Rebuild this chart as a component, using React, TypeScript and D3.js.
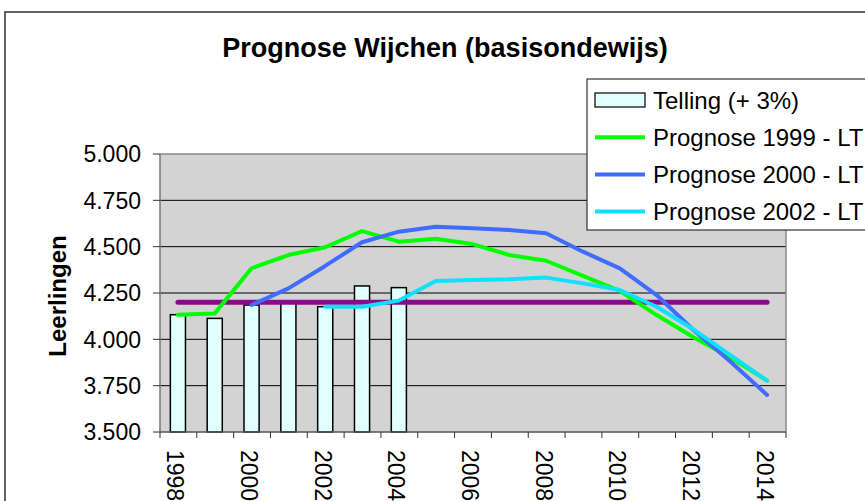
import React from "react";
import * as d3 from "d3";

// years on the category axis
const years = [
  "1998", "1999", "2000", "2001", "2002", "2003", "2004", "2005", "2006",
  "2007", "2008", "2009", "2010", "2011", "2012", "2013", "2014",
];
const yearLabels = ["1998", "2000", "2002", "2004", "2006", "2008", "2010", "2012", "2014"];

// Telling (+ 3%) counts, 1998 - 2004
const tellingYears = ["1998", "1999", "2000", "2001", "2002", "2003", "2004"];
const telling = [4.133, 4.113, 4.185, 4.205, 4.176, 4.288, 4.279];

// prognoses
const prog1999Years = years;
const prog1999 = [
  4.133, 4.14, 4.383, 4.455, 4.497, 4.584, 4.527, 4.543, 4.514,
  4.455, 4.424, 4.342, 4.262, 4.131, 4.011, 3.903, 3.777,
];
const prog2000Years = years.slice(2);
const prog2000 = [
  4.185, 4.275, 4.396, 4.524, 4.581, 4.608, 4.599, 4.59, 4.572,
  4.473, 4.383, 4.239, 4.05, 3.88, 3.7,
];
const prog2002Years = years.slice(4);
const prog2002 = [
  4.176, 4.176, 4.209, 4.315, 4.32, 4.324, 4.333, 4.302, 4.266,
  4.176, 4.054, 3.915, 3.777,
];
const capacity = 4.2; // purple reference line

const yTicks = [3.5, 3.75, 4.0, 4.25, 4.5, 4.75, 5.0];

const legendItems = [
  { label: "Telling (+ 3%)", type: "bar", color: "#E0FFFF" },
  { label: "Prognose 1999 - LT", type: "line", color: "#00FF00" },
  { label: "Prognose 2000 - LT", type: "line", color: "#3F6BFF" },
  { label: "Prognose 2002 - LT", type: "line", color: "#10E0FF" },
];

const font = "'Liberation Sans', Arial, sans-serif";

export default function App() {
  const left = 160, right = 786, top = 154, bottom = 432;

  const x = d3.scaleBand().domain(years).range([left, right]).padding(0);
  const y = d3.scaleLinear().domain([3.5, 5.0]).range([bottom, top]);
  const bw = x.bandwidth();
  const cx = (yr: string) => (x(yr) as number) + bw / 2 - 0.5;
  const fmt = d3.format(",.3f");

  const line = d3
    .line<[string, number]>()
    .x((d) => cx(d[0]))
    .y((d) => y(d[1]));

  const series = [
    { yrs: prog1999Years, vals: prog1999, color: legendItems[1].color },
    { yrs: prog2000Years, vals: prog2000, color: legendItems[2].color },
    { yrs: prog2002Years, vals: prog2002, color: legendItems[3].color },
  ];

  const barW = bw * 0.41;

  return (
    <svg
      width={865}
      height={501}
      style={{ position: "absolute", left: 0, top: 0, background: "#fff" }}
      fontFamily={font}
    >
      {/* chart frame */}
      <rect x={5} y={12} width={900} height={600} fill="#fff" stroke="#333" strokeWidth={1.5} />

      <text x={445} y={57} textAnchor="middle" fontSize={27} fontWeight="bold" fill="#000">
        Prognose Wijchen (basisondewijs)
      </text>

      {/* plot area */}
      <rect x={left} y={top} width={right - left} height={bottom - top} fill="#D3D3D3" />
      {yTicks.slice(1, -1).map((t) => (
        <line key={t} x1={left} x2={right} y1={y(t)} y2={y(t)} stroke="#000" strokeWidth={1} />
      ))}
      <line x1={left} x2={right} y1={top} y2={top} stroke="#888" strokeWidth={1.5} />
      <line x1={right} x2={right} y1={top} y2={bottom} stroke="#888" strokeWidth={1.5} />

      {/* bars */}
      {tellingYears.map((yr, i) => (
        <rect
          key={yr}
          x={cx(yr) - barW / 2}
          y={y(telling[i])}
          width={barW}
          height={bottom - y(telling[i])}
          fill={legendItems[0].color}
          stroke="#000"
          strokeWidth={1.5}
        />
      ))}

      {/* capacity line */}
      <line
        x1={cx(years[0])}
        x2={cx(years[years.length - 1])}
        y1={y(capacity)}
        y2={y(capacity)}
        stroke="#8B0A8B"
        strokeWidth={5}
        strokeLinecap="round"
      />

      {series.map((s, i) => (
        <path
          key={i}
          d={line(s.yrs.map((yr, j) => [yr, s.vals[j]] as [string, number])) || ""}
          fill="none"
          stroke={s.color}
          strokeWidth={4}
          strokeLinejoin="round"
          strokeLinecap="round"
        />
      ))}

      {/* y axis */}
      <line x1={left} x2={left} y1={top} y2={bottom} stroke="#777" strokeWidth={1.5} />
      {yTicks.map((t) => (
        <g key={t}>
          <line x1={left - 7} x2={left} y1={y(t)} y2={y(t)} stroke="#333" strokeWidth={1} />
          <text x={141} y={y(t)} dy="0.36em" textAnchor="end" fontSize={23} fill="#000">
            {fmt(t).replace(",", ".")}
          </text>
        </g>
      ))}
      <text
        transform={`translate(57, ${(top + bottom) / 2 + 3}) rotate(-90)`}
        textAnchor="middle"
        dy="0.36em"
        fontSize={24}
        fontWeight="bold"
        fill="#000"
      >
        Leerlingen
      </text>

      {/* x axis */}
      <line x1={left} x2={right} y1={bottom} y2={bottom} stroke="#555" strokeWidth={1.5} />
      {[...years.map((yr) => x(yr) as number), right].map((bx, i) => (
        <line key={i} x1={bx} x2={bx} y1={bottom} y2={bottom + 6} stroke="#333" strokeWidth={1} />
      ))}
      {yearLabels.map((yr) => (
        <text
          key={yr}
          transform={`translate(${cx(yr) - 2.5}, 450) rotate(90)`}
          dy="0.35em"
          fontSize={23}
          fill="#000"
        >
          {yr}
        </text>
      ))}

      {/* legend */}
      <rect x={587} y={79} width={300} height={151} fill="#fff" stroke="#333" strokeWidth={1.2} />
      {legendItems.map((it, i) => {
        const cy = 100 + i * 37.2;
        return (
          <g key={it.label}>
            {it.type === "bar" ? (
              <rect x={595} y={cy - 7} width={50} height={14} fill={it.color} stroke="#000" strokeWidth={1.2} />
            ) : (
              <line x1={595} x2={645} y1={cy} y2={cy} stroke={it.color} strokeWidth={4} />
            )}
            <text x={653} y={cy} dy="0.36em" fontSize={24} fill="#000">
              {it.label}
            </text>
          </g>
        );
      })}
    </svg>
  );
}
